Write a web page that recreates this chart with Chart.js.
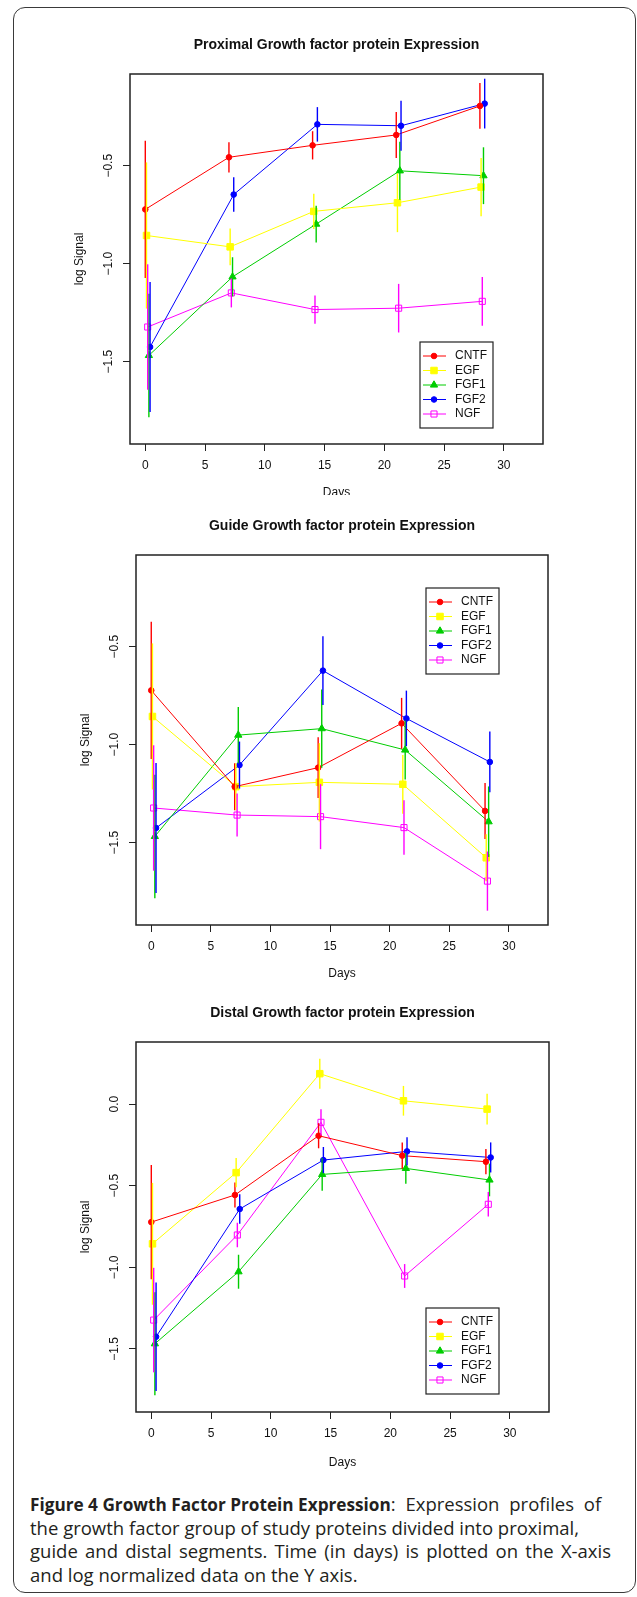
<!DOCTYPE html>
<html>
<head>
<meta charset="utf-8">
<script src="https://cdn.jsdelivr.net/npm/chart.js@4.4.0/dist/chart.umd.min.js"></script>
<style>
  body { margin: 0; background: #fff; width: 637px; height: 1597px; position: relative; overflow: hidden; }
  #frame { position: absolute; left: 13px; top: 7px; width: 623px; height: 1586px; border: 1.5px solid #3a3a3a; border-radius: 12px; box-sizing: border-box; }
  canvas { position: absolute; left: 0; }
  #caption { position: absolute; left: 30px; top: 1492px; font-family: 'Open Sans', sans-serif; font-size: 18.5px; line-height: 23.2px; color: #231f20; white-space: nowrap; }
  #caption div { text-align: justify; text-align-last: justify; }
  #caption div.plain { text-align: left; text-align-last: left; }
  #caption b { font-weight: 700; font-size: 17.2px; }
  #caption .wide { word-spacing: 5px; }
</style>
</head>
<body>
<div id="frame"></div>
<canvas id="c1" width="637" height="485" style="top:10px"></canvas>
<canvas id="c2" width="637" height="488" style="top:497px"></canvas>
<canvas id="c3" width="637" height="495" style="top:985px"></canvas>
<div id="caption">
  <div class="plain"><b>Figure 4 Growth Factor Protein Expression</b><span class="wide">: Expression profiles of</span></div>
  <div style="width:549px">the growth factor group of study proteins divided into proximal,</div>
  <div style="width:581px">guide and distal segments. Time (in days) is plotted on the X-axis</div>
  <div class="plain">and log normalized data on the Y axis.</div>
</div>
<script>
// days of sampling, each series is nudged a little to the right like in the R plot
const days = [0, 7, 14, 21, 28]
const names = ['CNTF', 'EGF', 'FGF1', 'FGF2', 'NGF']
const dodge = [0, 0.1, 0.3, 0.4, 0.2]
const xTicks = [0, 5, 10, 15, 20, 25, 30]
const yTicksUpper = [-0.5, -1.0, -1.5]
const yTicksDistal = [0.0, -0.5, -1.0, -1.5]

// proximal
const proxCNTF = [-0.723, -0.457, -0.396, -0.343, -0.195]
const proxEGF = [-0.856, -0.914, -0.733, -0.689, -0.609]
const proxFGF1 = [-1.468, -1.067, -0.798, -0.526, -0.551]
const proxFGF2 = [-1.425, -0.647, -0.289, -0.296, -0.183]
const proxNGF = [-1.323, -1.149, -1.234, -1.227, -1.192]
const proxCNTFerr = [0.35, 0.077, 0.072, 0.117, 0.117]
const proxEGFerr = [0.373, 0.094, 0.09, 0.15, 0.149]
const proxFGF1err = [0.315, 0.1, 0.094, 0.148, 0.145]
const proxFGF2err = [0.332, 0.088, 0.088, 0.128, 0.127]
const proxNGFerr = [0.32, 0.074, 0.072, 0.124, 0.124]

// guide
const guideCNTF = [-0.723, -1.214, -1.117, -0.891, -1.338]
const guideEGF = [-0.856, -1.214, -1.192, -1.202, -1.577]
const guideFGF1 = [-1.468, -0.951, -0.918, -1.027, -1.393]
const guideFGF2 = [-1.425, -1.104, -0.622, -0.866, -1.088]
const guideNGF = [-1.323, -1.359, -1.367, -1.423, -1.696]
const guideCNTFerr = [0.35, 0.12, 0.155, 0.13, 0.143]
const guideEGFerr = [0.373, 0.12, 0.2, 0.15, 0.12]
const guideFGF1err = [0.315, 0.143, 0.2, 0.15, 0.18]
const guideFGF2err = [0.332, 0.12, 0.175, 0.142, 0.155]
const guideNGFerr = [0.32, 0.11, 0.166, 0.139, 0.151]

// distal
const distCNTF = [-0.723, -0.557, -0.194, -0.316, -0.353]
const distEGF = [-0.856, -0.42, 0.186, 0.02, -0.031]
const distFGF1 = [-1.468, -1.027, -0.431, -0.394, -0.465]
const distFGF2 = [-1.425, -0.643, -0.343, -0.29, -0.327]
const distNGF = [-1.323, -0.802, -0.112, -1.053, -0.614]
const distCNTFerr = [0.35, 0.077, 0.077, 0.08, 0.077]
const distEGFerr = [0.373, 0.089, 0.092, 0.091, 0.094]
const distFGF1err = [0.315, 0.104, 0.1, 0.094, 0.1]
const distFGF2err = [0.332, 0.09, 0.08, 0.086, 0.092]
const distNGFerr = [0.32, 0.075, 0.08, 0.073, 0.075]

const colors = ['#ff0000', '#ffff00', '#00cd00', '#0000ff', '#ff00ff']
const shapes = ['circle', 'rect', 'triangle', 'circle', 'rect']
const radii = [2.8, 4.6, 4.2, 2.8, 4.3]
const filled = [true, true, true, true, false]
const FONT = '"Liberation Sans", Arial, Helvetica, sans-serif'

function fmt(v) {
  return v === 0 ? '0.0' : '\u2212' + Math.abs(v).toFixed(1)
}

function marker(ctx, i, x, y) {
  const r = radii[i]
  ctx.beginPath()
  if (shapes[i] == 'circle') {
    ctx.arc(x, y, r, 0, Math.PI * 2)
  } else if (shapes[i] == 'rect') {
    const s = r * Math.SQRT1_2
    ctx.rect(x - s, y - s, 2 * s, 2 * s)
  } else {
    ctx.moveTo(x, y - r)
    ctx.lineTo(x + 0.866 * r, y + 0.5 * r)
    ctx.lineTo(x - 0.866 * r, y + 0.5 * r)
    ctx.closePath()
  }
  if (filled[i]) ctx.fill()
  ctx.stroke()
}

function makeLook(cfg) {
  return {
    id: 'rLook',
    afterDatasetsDraw(chart) {
      const { ctx, scales: { x, y } } = chart
      chart.data.datasets.forEach((ds) => {
        ctx.save()
        ctx.strokeStyle = ds.borderColor
        ctx.lineWidth = 1.4
        ds.data.forEach((p, j) => {
          const px = x.getPixelForValue(p.x)
          ctx.beginPath()
          ctx.moveTo(px, y.getPixelForValue(p.y - ds.errors[j]))
          ctx.lineTo(px, y.getPixelForValue(p.y + ds.errors[j]))
          ctx.stroke()
        })
        ctx.restore()
      })
    },
    afterDraw(chart) {
      const { ctx, chartArea: a, scales: { y } } = chart
      ctx.save()
      ctx.strokeStyle = '#222'
      ctx.lineWidth = 1.5
      ctx.strokeRect(a.left, a.top, a.right - a.left, a.bottom - a.top)

      ctx.fillStyle = '#111'
      ctx.textAlign = 'center'
      ctx.textBaseline = 'middle'
      ctx.font = 'bold 14px ' + FONT
      ctx.fillText(cfg.title, (a.left + a.right) / 2, a.top - 29)
      ctx.font = '12px ' + FONT
      ctx.fillText('Days', (a.left + a.right) / 2, a.bottom + cfg.daysGap)

      cfg.yTicks.forEach((v) => {
        ctx.save()
        ctx.translate(a.left - 21, y.getPixelForValue(v))
        ctx.rotate(-Math.PI / 2)
        ctx.fillText(fmt(v), 0, 0)
        ctx.restore()
      })
      ctx.save()
      ctx.translate(a.left - 50, (a.top + a.bottom) / 2)
      ctx.rotate(-Math.PI / 2)
      ctx.fillText('log Signal', 0, 0)
      ctx.restore()

      // legend box, R style
      const lx = a.left + cfg.legend[0]
      const ly = a.top + cfg.legend[1]
      ctx.strokeStyle = '#222'
      ctx.lineWidth = 1.2
      ctx.strokeRect(lx, ly, 73, 86)
      ctx.textAlign = 'left'
      names.forEach((n, i) => {
        const ry = ly + 14 + i * 14.5
        ctx.strokeStyle = colors[i]
        ctx.fillStyle = colors[i]
        ctx.lineWidth = 1
        ctx.beginPath()
        ctx.moveTo(lx + 3, ry)
        ctx.lineTo(lx + 26, ry)
        ctx.stroke()
        marker(ctx, i, lx + 14, ry)
        ctx.fillStyle = '#111'
        ctx.fillText(n, lx + 35, ry)
      })
      ctx.restore()
    },
  }
}

function panel(id, cfg) {
  const canvas = document.getElementById(id)
  const H = canvas.height
  const a = cfg.area
  const datasets = cfg.means.map((m, i) => ({
    label: names[i],
    data: m.map((v, j) => ({ x: days[j] + dodge[i], y: v })),
    errors: cfg.errs[i],
    borderColor: colors[i],
    borderWidth: 1,
    pointStyle: shapes[i],
    pointRadius: radii[i],
    pointBackgroundColor: filled[i] ? colors[i] : 'rgba(0,0,0,0)',
    pointBorderColor: colors[i],
    pointBorderWidth: 1,
    tension: 0,
    fill: false,
  }))
  const gridOpts = { display: true, drawOnChartArea: false, drawTicks: true, tickLength: 7, color: '#222', lineWidth: 1 }
  new Chart(canvas, {
    type: 'line',
    data: { datasets },
    options: {
      responsive: false,
      animation: false,
      events: [],
      layout: { padding: { left: a.left - 40, top: a.top, right: canvas.width - a.right, bottom: 0 } },
      plugins: { legend: { display: false }, tooltip: { enabled: false } },
      scales: {
        x: {
          type: 'linear',
          min: -1.28,
          max: 33.28,
          afterBuildTicks: (s) => { s.ticks = xTicks.map((v) => ({ value: v })) },
          afterFit: (s) => { s.height = H - a.bottom },
          grid: gridOpts,
          border: { display: false },
          ticks: { font: { family: FONT, size: 12 }, color: '#111', padding: 7, maxRotation: 0, autoSkip: false },
        },
        y: {
          type: 'linear',
          min: cfg.yMin,
          max: cfg.yMax,
          afterBuildTicks: (s) => { s.ticks = cfg.yTicks.map((v) => ({ value: v })) },
          afterFit: (s) => { s.width = 40 },
          grid: gridOpts,
          border: { display: false },
          ticks: { display: false },
        },
      },
    },
    plugins: [makeLook(cfg)],
  })
}

panel('c1', {
  title: 'Proximal Growth factor protein Expression',
  area: { left: 130, right: 543, top: 64, bottom: 434 },
  yMin: -1.92, yMax: -0.032, yTicks: yTicksUpper,
  legend: [290, 268], daysGap: 49,
  means: [proxCNTF, proxEGF, proxFGF1, proxFGF2, proxNGF],
  errs: [proxCNTFerr, proxEGFerr, proxFGF1err, proxFGF2err, proxNGFerr],
})

panel('c2', {
  title: 'Guide Growth factor protein Expression',
  area: { left: 136, right: 548, top: 58, bottom: 428 },
  yMin: -1.92, yMax: -0.032, yTicks: yTicksUpper,
  legend: [290, 33], daysGap: 49,
  means: [guideCNTF, guideEGF, guideFGF1, guideFGF2, guideNGF],
  errs: [guideCNTFerr, guideEGFerr, guideFGF1err, guideFGF2err, guideNGFerr],
})

panel('c3', {
  title: 'Distal Growth factor protein Expression',
  area: { left: 136, right: 549, top: 57, bottom: 427 },
  yMin: -1.886, yMax: 0.38, yTicks: yTicksDistal,
  legend: [290, 266], daysGap: 51,
  means: [distCNTF, distEGF, distFGF1, distFGF2, distNGF],
  errs: [distCNTFerr, distEGFerr, distFGF1err, distFGF2err, distNGFerr],
})
</script>
</body>
</html>
